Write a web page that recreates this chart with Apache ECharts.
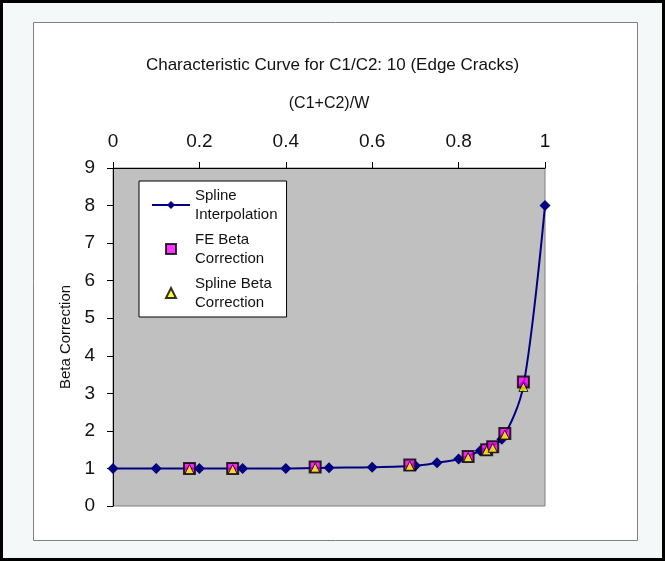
<!DOCTYPE html>
<html>
<head>
<meta charset="utf-8">
<script src="https://cdn.jsdelivr.net/npm/echarts@6/dist/echarts.min.js"></script>
<style>
  html, body { margin: 0; padding: 0; background: #fff; }
  #main { width: 665px; height: 561px; }
</style>
</head>
<body>
<div id="main"></div>
<script>
// spline interpolation curve
var splineX = [0, 0.1, 0.2, 0.3, 0.4, 0.5, 0.6, 0.7, 0.75, 0.8, 0.85, 0.9, 0.95, 1];
var splineY = [1, 1, 1, 1, 1, 1.02, 1.03, 1.07, 1.15, 1.25, 1.47, 1.78, 3.2, 8];

// FE beta correction points
var feX = [0.177, 0.277, 0.468, 0.687, 0.822, 0.865, 0.879, 0.907, 0.95];
var feY = [1.0, 1.0, 1.04, 1.09, 1.32, 1.5, 1.58, 1.93, 3.3];

// spline beta correction points
var sbX = [0.177, 0.277, 0.468, 0.687, 0.822, 0.865, 0.879, 0.907, 0.95];
var sbY = [0.98, 0.98, 1.02, 1.07, 1.3, 1.48, 1.55, 1.9, 3.17];

var legendText = {
  'Spline Interpolation': 'Spline\nInterpolation',
  'FE Beta Correction': 'FE Beta\nCorrection',
  'Spline Beta Correction': 'Spline Beta\nCorrection'
};

function pairs(xs, ys) {
  var out = [];
  for (var i = 0; i < xs.length; i++) {
    out.push([xs[i], ys[i]]);
  }
  return out;
}

var font = 'Liberation Sans, Arial, sans-serif';
var chart = echarts.init(document.getElementById('main'));

var option = {
  backgroundColor: '#f4f8f8',
  animation: false,
  textStyle: { fontFamily: font },
  graphic: [
    {
      type: 'rect',
      shape: { x: 1.5, y: 1.5, width: 662, height: 558 },
      style: { fill: 'none', stroke: '#000', lineWidth: 3 },
      z: 0
    },
    {
      type: 'rect',
      shape: { x: 33.5, y: 22.5, width: 604, height: 518 },
      style: { fill: '#fff', stroke: '#808080', lineWidth: 1 },
      z: -1
    }
  ],
  title: {
    text: 'Characteristic Curve for C1/C2: 10 (Edge Cracks)',
    left: 'center',
    top: 52,
    textStyle: { fontFamily: font, fontSize: 17, fontWeight: 'normal', color: '#111' }
  },
  grid: {
    left: 113,
    top: 168,
    width: 432,
    height: 338,
    show: true,
    backgroundColor: '#c0c0c0',
    borderColor: '#808080',
    borderWidth: 1
  },
  legend: {
    orient: 'vertical',
    left: 139,
    top: 181,
    padding: [5, 9, 5, 12],
    itemGap: 6,
    itemWidth: 38,
    itemHeight: 10,
    symbolKeepAspect: true,
    backgroundColor: '#fff',
    borderColor: '#000',
    borderWidth: 1,
    borderRadius: 0,
    textStyle: { fontFamily: font, fontSize: 15, color: '#111', lineHeight: 19 },
    formatter: function (name) { return legendText[name]; },
    data: [
      { name: 'Spline Interpolation' },
      { name: 'FE Beta Correction', icon: 'path://M0,0H10V10H0Z' },
      { name: 'Spline Beta Correction', icon: 'path://M5,0L10,10H0Z' }
    ]
  },
  xAxis: {
    type: 'value',
    position: 'top',
    min: 0,
    max: 1,
    interval: 0.2,
    name: '(C1+C2)/W',
    nameLocation: 'middle',
    nameGap: 56,
    nameTextStyle: { fontFamily: font, fontSize: 16, color: '#111' },
    axisLine: { show: true, onZero: false, lineStyle: { color: '#000', width: 1 } },
    axisTick: { show: true, length: 6, lineStyle: { color: '#000' } },
    axisLabel: {
      fontFamily: font, fontSize: 19, color: '#111', margin: 17,
      formatter: function (v) { return String(+v.toFixed(1)); }
    },
    splitLine: { show: false }
  },
  yAxis: {
    type: 'value',
    min: 0,
    max: 9,
    interval: 1,
    name: 'Beta Correction',
    nameLocation: 'middle',
    nameGap: 38,
    nameTextStyle: { fontFamily: font, fontSize: 15, color: '#111' },
    axisLine: { show: true, onZero: false, lineStyle: { color: '#000', width: 1 } },
    axisTick: { show: true, length: 6, lineStyle: { color: '#000' } },
    axisLabel: { fontFamily: font, fontSize: 19, color: '#111', margin: 18 },
    splitLine: { show: false }
  },
  series: [
    {
      name: 'Spline Interpolation',
      type: 'line',
      smooth: 0.3,
      data: pairs(splineX, splineY),
      symbol: 'diamond',
      symbolSize: 11,
      showAllSymbol: true,
      lineStyle: { color: '#000080', width: 2 },
      itemStyle: { color: '#000080' },
      z: 2
    },
    {
      name: 'FE Beta Correction',
      type: 'scatter',
      data: pairs(feX, feY),
      symbol: 'rect',
      symbolSize: 11,
      itemStyle: { color: '#ff00ff', borderColor: '#000', borderWidth: 2 },
      z: 3
    },
    {
      name: 'Spline Beta Correction',
      type: 'scatter',
      data: pairs(sbX, sbY),
      symbol: 'triangle',
      symbolSize: 9,
      itemStyle: { color: '#ffff00', borderColor: '#000', borderWidth: 1 },
      z: 4
    }
  ]
};

chart.setOption(option);
</script>
</body>
</html>
